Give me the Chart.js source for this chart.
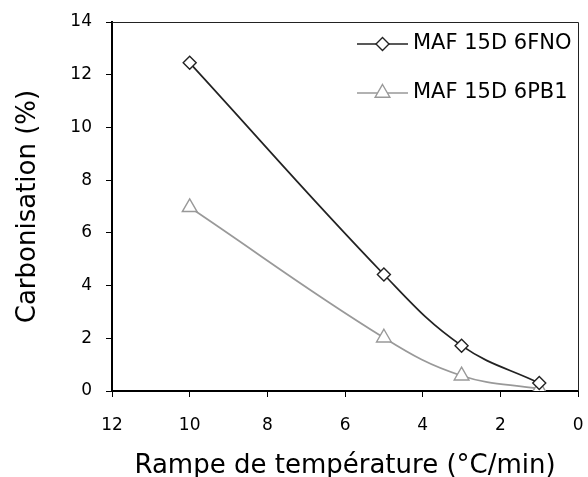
<!DOCTYPE html>
<html>
<head>
<meta charset="utf-8">
<script src="https://cdn.jsdelivr.net/npm/chart.js@4"></script>
<style>
html,body{margin:0;padding:0;background:#fff;}
#wrap{width:588px;height:477px;position:relative;}
</style>
</head>
<body>
<div id="wrap"><canvas id="c" width="588" height="477"></canvas></div>
<script>
const seriesNames = ["MAF 15D 6FNO", "MAF 15D 6PB1"];
const rampes = [10, 5, 3, 1];
const fnoValues = [12.45, 4.42, 1.72, 0.3];
const pb1Values = [6.97, 2.02, 0.58, 0.08];
const xTitle = "Rampe de température (°C/min)";
const yTitle = "Carbonisation (%)";
const FONT = "'DejaVu Sans', Verdana, sans-serif";

function pts(xs, ys){ return xs.map((x,i)=>({x:x, y:ys[i]})); }

const bgPlugin = {
  id: 'bg',
  beforeDraw(chart){ const c = chart.ctx; c.save(); c.fillStyle = '#fff'; c.fillRect(0,0,chart.width,chart.height); c.restore(); }
};

const frameLegendPlugin = {
  id: 'frameLegend',
  afterDraw(chart){
    const ctx = chart.ctx;
    const dsets = chart.data.datasets;
    const a = chart.chartArea;
    ctx.save();
    ctx.strokeStyle = '#222';
    ctx.lineWidth = 1;
    ctx.beginPath();
    ctx.moveTo(a.left, Math.round(a.top) + 0.5);
    ctx.lineTo(Math.round(a.right) + 0.5, Math.round(a.top) + 0.5);
    ctx.lineTo(Math.round(a.right) + 0.5, a.bottom);
    ctx.stroke();
    const x0 = 357, x1 = 408, tx = 413;
    const ys = [44, 93];
    dsets.forEach((ds, i) => {
      const y = ys[i];
      ctx.strokeStyle = ds.borderColor;
      ctx.lineWidth = ds.borderWidth;
      ctx.beginPath();
      ctx.moveTo(x0, y); ctx.lineTo(x1, y);
      ctx.stroke();
      ctx.fillStyle = ds.pointBackgroundColor;
      ctx.strokeStyle = ds.pointBorderColor;
      ctx.lineWidth = ds.pointBorderWidth;
      Chart.helpers.drawPoint(ctx, { pointStyle: ds.pointStyle, radius: ds.pointRadius, borderWidth: ds.pointBorderWidth, rotation: 0 }, (x0 + x1) / 2, y);
      ctx.fillStyle = '#000';
      ctx.font = '21px ' + FONT;
      ctx.textBaseline = 'middle';
      ctx.textAlign = 'left';
      ctx.fillText(ds.label, tx, y);
    });
    ctx.restore();
  }
};

new Chart(document.getElementById('c'), {
  type: 'line',
  data: {
    datasets: [
      {
        label: seriesNames[0],
        data: pts(rampes, fnoValues),
        borderColor: '#222222',
        borderWidth: 1.7,
        pointStyle: 'rectRot',
        pointRadius: 6.5,
        pointBorderWidth: 1.4,
        pointBackgroundColor: '#ffffff',
        pointBorderColor: '#222222',
        tension: 0.4,
        fill: false
      },
      {
        label: seriesNames[1],
        data: pts(rampes, pb1Values),
        borderColor: '#999999',
        borderWidth: 1.7,
        pointStyle: 'triangle',
        pointRadius: 8.5,
        pointBorderWidth: 1.4,
        pointBackgroundColor: '#ffffff',
        pointBorderColor: '#999999',
        tension: 0.4,
        fill: false
      }
    ]
  },
  options: {
    responsive: false,
    animation: false,
    events: [],
    layout: { padding: { top: 22, right: 5, left: 0, bottom: 0 } },
    plugins: { legend: { display: false }, tooltip: { enabled: false } },
    scales: {
      x: {
        type: 'linear',
        reverse: true,
        min: 0, max: 12,
        ticks: { stepSize: 2, color: '#000', font: { family: FONT, size: 17 }, padding: 18, maxRotation: 0 },
        grid: { drawOnChartArea: false, drawTicks: true, tickLength: 6, color: '#000', tickWidth: 1 },
        border: { display: true, color: '#000', width: 2 },
        title: { display: true, text: xTitle, color: '#000', font: { family: FONT, size: 26, lineHeight: 1 }, padding: { top: 0, bottom: -2 } },
        afterFit(s){ s.height = 86; s.paddingLeft = 0; s.paddingRight = 0; }
      },
      y: {
        min: 0, max: 14,
        ticks: { stepSize: 2, color: '#000', font: { family: FONT, size: 17 }, padding: 14 },
        grid: { drawOnChartArea: false, drawTicks: true, tickLength: 6, color: '#000', tickWidth: 1 },
        border: { display: true, color: '#000', width: 2 },
        title: { display: true, text: yTitle, color: '#000', font: { family: FONT, size: 26, lineHeight: 1 }, padding: { top: 15, bottom: 0 } },
        afterFit(s){ s.width = 112; s.paddingTop = 0; s.paddingBottom = 0; }
      }
    }
  },
  plugins: [bgPlugin, frameLegendPlugin]
});
</script>
</body>
</html>
